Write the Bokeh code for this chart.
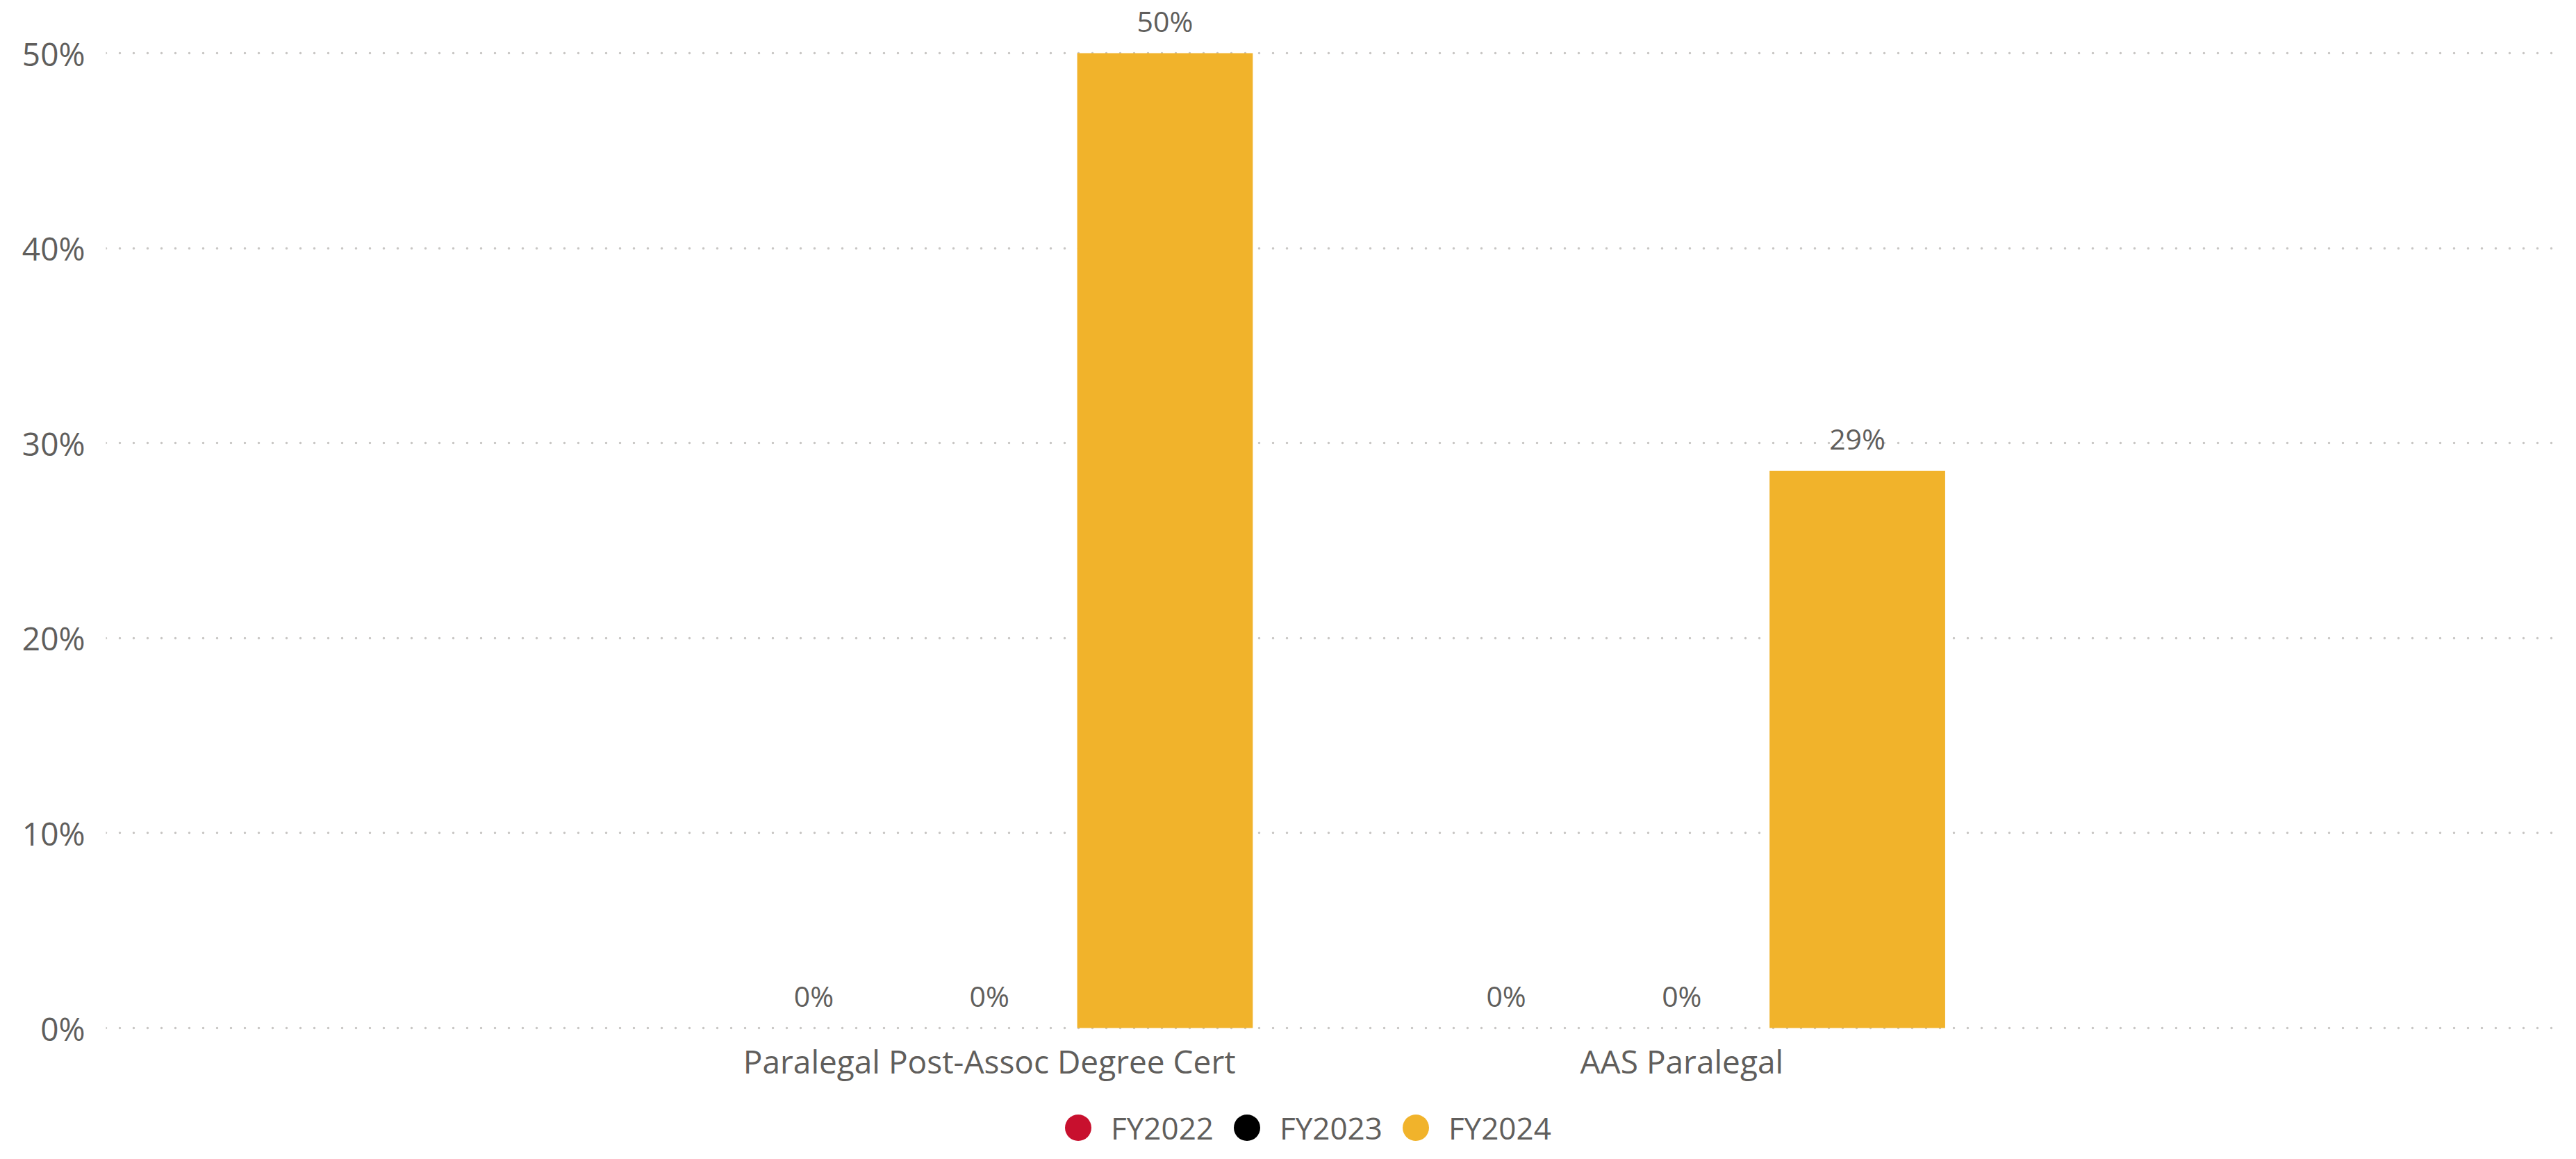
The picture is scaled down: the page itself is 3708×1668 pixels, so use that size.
from bokeh.plotting import figure
from bokeh.models import (FactorRange, Range1d, FixedTicker, NumeralTickFormatter,
                          ColumnDataSource, Legend, LegendItem)
from bokeh.transform import dodge
from bokeh.core.properties import value
from bokeh.embed import file_html
from bokeh.resources import INLINE

# ---- data ----
categories = ["Paralegal Post-Assoc Degree Cert", "AAS Paralegal"]
series_names = ["FY2022", "FY2023", "FY2024"]
fy2022 = [0.0, 0.0]
fy2023 = [0.0, 0.0]
fy2024 = [0.50, 0.2857]
y_ticks = [0.0, 0.1, 0.2, 0.3, 0.4, 0.5]
colors = ["#C8102E", "#000000", "#F1B32B"]

FONT = "Open Sans"
TEXT = "#605E5C"

series_values = {"FY2022": fy2022, "FY2023": fy2023, "FY2024": fy2024}
data = {"cat": categories}
for name in series_names:
    vals = series_values[name]
    data[name] = vals
    data[name + "_lbl"] = [f"{round(v * 100):.0f}%" for v in vals]
src = ColumnDataSource(data)

# frame: page y 12 .. 1660; y=0 at page 1487, 50% at page 84
p = figure(x_range=FactorRange(factors=categories, range_padding=0.776),
           y_range=Range1d(-0.06165, 0.52566),
           width=3692, height=1652,
           min_border_left=152, min_border_right=0, min_border_top=4, min_border_bottom=0,
           output_backend="svg", toolbar_location=None, tools="")
p.outline_line_color = None
p.background_fill_color = "white"
p.border_fill_color = "white"

bw = 0.2536
legend_renderers = []
for i, name in enumerate(series_names):
    off = (i - 1) * bw
    p.vbar(x=dodge("cat", off, range=p.x_range), top=name, bottom=0, width=bw, source=src,
           fill_color=colors[i], line_color=None)
    p.text(x=dodge("cat", off, range=p.x_range), y=name, text=name + "_lbl", source=src,
           text_font=value(FONT), text_font_size="41px", text_color=TEXT,
           text_align="center", text_baseline="alphabetic", y_offset=-47)
    # zero-size markers: only used for the circular legend swatch
    legend_renderers.append(
        p.scatter(x=dodge("cat", off, range=p.x_range), y=name, source=src, size=0,
                  marker="circle", fill_color=colors[i], line_color=None))

# axes
for ax in (p.xaxis, p.yaxis):
    ax.axis_line_color = None
    ax.major_tick_line_color = None
    ax.minor_tick_line_color = None
    ax.major_tick_out = 0
    ax.major_tick_in = 0
    ax.minor_tick_out = 0
    ax.minor_tick_in = 0
    ax.major_label_text_font = FONT
    ax.major_label_text_font_size = "46px"
    ax.major_label_text_color = TEXT
p.xaxis.fixed_location = 0
p.xaxis.major_label_standoff = 16
p.yaxis.ticker = FixedTicker(ticks=y_ticks)
p.yaxis.formatter = NumeralTickFormatter(format="0%")
p.yaxis.major_label_standoff = 30

p.xgrid.grid_line_color = None
p.ygrid.grid_line_color = "#C8C6C4"
p.ygrid.grid_line_width = 3.5
p.ygrid.grid_line_dash = "0 20"
p.ygrid.grid_line_cap = "round"

# legend (inside the frame, below the axis labels)
legend = Legend(items=[LegendItem(label=n, renderers=[r]) for n, r in zip(series_names, legend_renderers)],
                orientation="horizontal", location=(1352, -18),
                glyph_width=95, glyph_height=95, label_standoff=0, spacing=0,
                padding=0, margin=0, border_line_color=None, background_fill_alpha=0,
                label_text_font=FONT, label_text_font_size="44px", label_text_color=TEXT)
p.add_layout(legend, "center")

open("out.html", "w").write(file_html(p, INLINE))
